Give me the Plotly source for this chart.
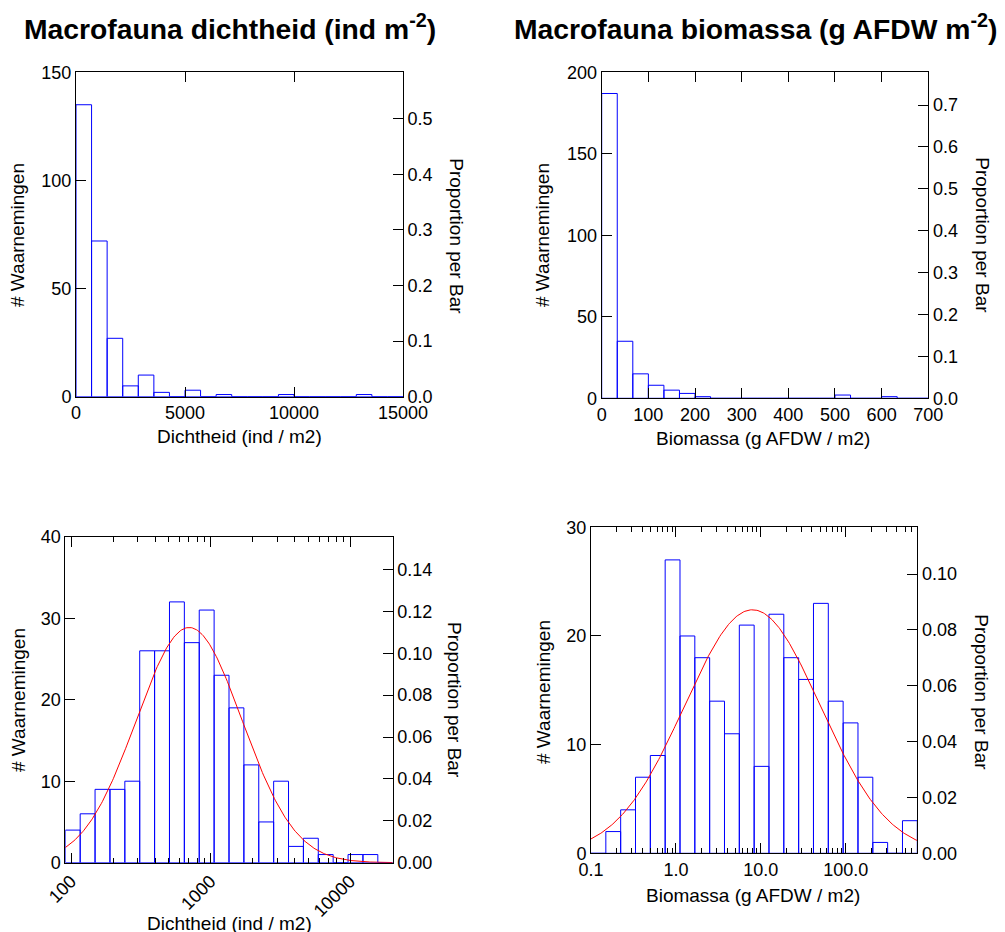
import numpy as np
import plotly.graph_objects as go

# ---------------- data ----------------
N_OBS = 257

# top-left: density, linear bins 0..15000 (21 bins)
dens_lin_range = [0, 15000]
dens_lin_counts = [135, 72, 27, 5, 10, 2, 0, 3, 0, 1, 0, 0, 0, 1, 0, 0, 0, 0, 1, 0, 0]

# top-right: biomass, linear bins 0..700 (21 bins)
bio_lin_range = [0, 700]
bio_lin_counts = [187, 35, 15, 8, 5, 3, 1, 0, 0, 0, 0, 0, 0, 0, 0, 2, 0, 0, 1, 0, 0]

# bottom-left: density, log10 bins (22 bins)
dens_log_range = [1.959, 4.306]
dens_log_counts = [4, 6, 9, 9, 10, 26, 26, 32, 27, 31, 23, 19, 12, 5, 10, 2, 3, 1, 0, 1, 1, 0]
dens_fit_mu, dens_fit_sd = 2.847, 0.379

# bottom-right: biomass, log10 bins (22 bins)
bio_log_range = [-1.0, 2.842]
bio_log_counts = [0, 2, 4, 7, 9, 27, 20, 18, 14, 11, 21, 8, 22, 18, 16, 23, 14, 12, 7, 1, 0, 3]
bio_fit_mu, bio_fit_sd = 0.901, 0.799

titles = ["Macrofauna dichtheid (ind m<sup>-2</sup>)",
          "Macrofauna biomassa (g AFDW m<sup>-2</sup>)"]
ylab = "# Waarnemingen"
y2lab = "Proportion per Bar"
xlab_dens = "Dichtheid (ind / m2)"
xlab_bio = "Biomassa (g AFDW / m2)"

# ---------------- helpers ----------------
W, H = 1005, 932
PAGE_OFF = 8  # default body margin of the html page
FONT = "Liberation Sans, Arial, sans-serif"
BLUE = "#0000ff"


def fx(p):
    return (p - PAGE_OFF) / W


def fy(p):
    return 1 - (p - PAGE_OFF) / H


def outline(edges, counts):
    xs, ys = [], []
    for i, c in enumerate(counts):
        e0, e1 = edges[i], edges[i + 1]
        xs += [e0, e0, e1, e1, e0, None]
        ys += [0, c, c, 0, 0, None]
    return xs, ys


fig = go.Figure()

panels = [
    dict(counts=dens_lin_counts,
         edges=np.linspace(dens_lin_range[0], dens_lin_range[1], len(dens_lin_counts) + 1),
         log=False, xr=dens_lin_range, dx=(76, 403), dy=(72.3, 396.7), ymax=150, ydt=50,
         y2dt=0.1, y2fmt=".1f", xdt=5000, fit=None),
    dict(counts=bio_lin_counts,
         edges=np.linspace(bio_lin_range[0], bio_lin_range[1], len(bio_lin_counts) + 1),
         log=False, xr=bio_lin_range, dx=(601.7, 928.3), dy=(72.3, 398.3), ymax=200, ydt=50,
         y2dt=0.1, y2fmt=".1f", xdt=100, fit=None),
    dict(counts=dens_log_counts,
         edges=10 ** np.linspace(dens_log_range[0], dens_log_range[1], len(dens_log_counts) + 1),
         log=True, xr=dens_log_range, dx=(65.3, 392.7), dy=(536.7, 862.7), ymax=40, ydt=10,
         y2dt=0.02, y2fmt=".2f", xfmt="d", tickangle=-45, fit=(dens_fit_mu, dens_fit_sd)),
    dict(counts=bio_log_counts,
         edges=10 ** np.linspace(bio_log_range[0], bio_log_range[1], len(bio_log_counts) + 1),
         log=True, xr=bio_log_range, dx=(591, 917.3), dy=(527.3, 853.3), ymax=30, ydt=10,
         y2dt=0.02, y2fmt=".2f", xfmt=".1f", tickangle=0, fit=(bio_fit_mu, bio_fit_sd)),
]

tickfont = dict(family=FONT, size=18, color="black")

for i, p in enumerate(panels):
    xa = f"x{2*i+1}" if i else "x"
    ya = f"y{2*i+1}" if i else "y"
    ya2 = f"y{2*i+2}"
    xs, ys = outline(p["edges"], p["counts"])
    fig.add_trace(go.Scatter(x=xs, y=ys, mode="lines", line=dict(color=BLUE, width=1),
                             xaxis=xa, yaxis=ya, showlegend=False, hoverinfo="skip"))
    counts = np.array(p["counts"], dtype=float)
    edges = np.asarray(p["edges"])
    centers = np.sqrt(edges[:-1] * edges[1:]) if p["log"] else (edges[:-1] + edges[1:]) / 2
    fig.add_trace(go.Scatter(x=centers, y=counts / N_OBS, mode="markers",
                             marker=dict(opacity=0), xaxis=xa, yaxis=ya2,
                             showlegend=False, hoverinfo="skip"))
    if p["fit"] is not None:
        mu, sd = p["fit"]
        bw = (p["xr"][1] - p["xr"][0]) / len(p["counts"])
        t = np.linspace(p["xr"][0], p["xr"][1], 300)
        yfit = N_OBS * bw / (sd * np.sqrt(2 * np.pi)) * np.exp(-0.5 * ((t - mu) / sd) ** 2)
        fig.add_trace(go.Scatter(x=10 ** t, y=yfit, mode="lines",
                                 line=dict(color="#ff0000", width=1),
                                 xaxis=xa, yaxis=ya, showlegend=False, hoverinfo="skip"))

    xkey = f"xaxis{2*i+1}" if i else "xaxis"
    ykey = f"yaxis{2*i+1}" if i else "yaxis"
    y2key = f"yaxis{2*i+2}"
    xax = dict(domain=[fx(p["dx"][0]), fx(p["dx"][1])], anchor=ya, showgrid=False,
               zeroline=False, showline=True, linecolor="black", linewidth=1,
               mirror="ticks", ticks="inside", ticklen=10, tickcolor="black",
               tickfont=tickfont, automargin=False)
    if p["log"]:
        xax.update(type="log", range=p["xr"], dtick=1, tickformat=p["xfmt"],
                   tickangle=p["tickangle"],
                   minor=dict(ticks="inside", ticklen=5, tickcolor="black", dtick="D1",
                              showgrid=False))
    else:
        xax.update(range=p["xr"], dtick=p["xdt"], tick0=0, tickformat="d")
    yax = dict(domain=[fy(p["dy"][1]), fy(p["dy"][0])], anchor=xa, range=[0, p["ymax"]],
               dtick=p["ydt"], showgrid=False, zeroline=False, showline=True,
               linecolor="black", linewidth=1, ticks="inside", ticklen=10,
               tickcolor="black", tickfont=tickfont, automargin=False)
    y2ax = dict(overlaying=ya, side="right", anchor=xa, range=[0, p["ymax"] / N_OBS],
                dtick=p["y2dt"], tick0=0, tickformat=p["y2fmt"], showgrid=False,
                zeroline=False, showline=True, linecolor="black", linewidth=1,
                ticks="inside", ticklen=10, tickcolor="black", tickfont=tickfont,
                automargin=False)
    fig.update_layout({xkey: xax, ykey: yax, y2key: y2ax})

# ---------------- text ----------------
annots = []
tfont = dict(family="Liberation Sans, Arial, sans-serif", size=28.3, color="black")
annots.append(dict(text="<b>" + titles[0] + "</b>", x=fx(22), y=fy(27),
                   xref="paper", yref="paper", showarrow=False, font=tfont,
                   xanchor="left", yanchor="middle"))
annots.append(dict(text="<b>" + titles[1] + "</b>", x=fx(512), y=fy(27),
                   xref="paper", yref="paper", showarrow=False, font=tfont,
                   xanchor="left", yanchor="middle"))

afont = dict(family=FONT, size=19, color="black")
label_pos = [
    (ylab, 18, 235, -90), (y2lab, 456.7, 236, 90), (xlab_dens, 239, 436.7, 0),
    (ylab, 543, 235, -90), (y2lab, 981.7, 235, 90), (xlab_bio, 763, 438, 0),
    (ylab, 18, 700, -90), (y2lab, 455, 700, 90), (xlab_dens, 229, 923, 0),
    (ylab, 543, 692, -90), (y2lab, 981.7, 692, 90), (xlab_bio, 753, 895, 0),
]
for txt, x, y, ang in label_pos:
    annots.append(dict(text=txt, x=fx(x), y=fy(y), xref="paper", yref="paper",
                       showarrow=False, font=afont, textangle=ang,
                       xanchor="center", yanchor="middle"))

fig.update_layout(width=W, height=H, margin=dict(l=0, r=0, t=0, b=0, autoexpand=False),
                  paper_bgcolor="white", plot_bgcolor="white",
                  annotations=annots, showlegend=False)

fig.write_html("out.html")
